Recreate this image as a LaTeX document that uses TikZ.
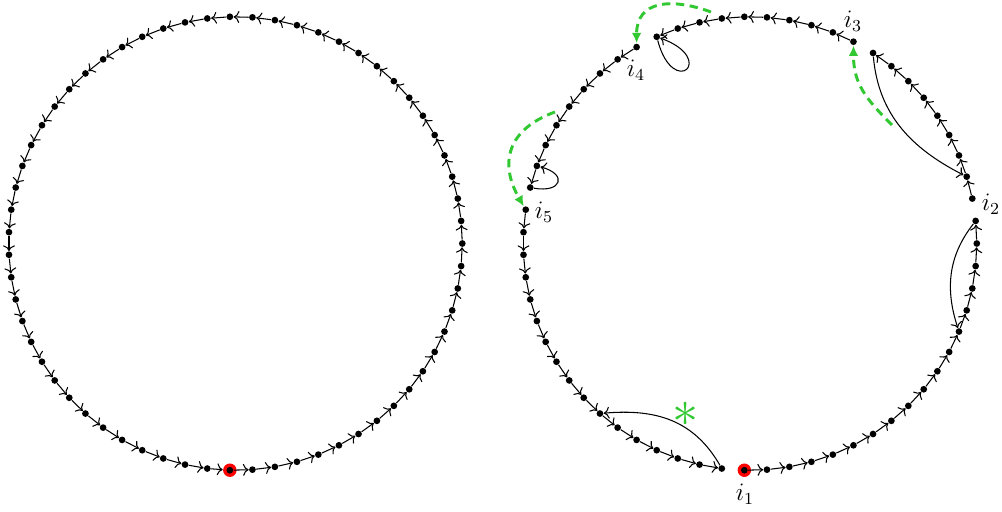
\documentclass[tikz,border=0pt]{standalone}
\usetikzlibrary{arrows.meta}
\definecolor{gr}{RGB}{50,200,50}
\begin{document}
\begin{tikzpicture}[x=0.47619pt,y=0.47619pt,
  dot/.style={circle,fill=black,inner sep=0pt,minimum size=3.2pt},
  ring/.style={circle,fill=red,inner sep=0pt,minimum size=6.4pt},
  arr/.style={->,line width=0.5pt},
  garr/.style={gr,line width=1.4pt,dash pattern=on 4pt off 2.6pt,-{Latex[length=5pt,width=4.6pt]}},
  lab/.style={inner sep=0pt,font=\fontsize{11.5}{13}\selectfont}]
\useasboundingbox (0,0) rectangle (1002,-512);
% ---------- left circle ----------
\begin{scope}[shift={(235.5,-243.5)}]
  \node[ring] (Lring) at ({47*5.7142857}:226.8) {};
  \foreach \j in {0,...,62}
    \node[dot] (L\j) at ({\j*5.7142857}:226.8) {};
\end{scope}
\foreach \j in {0,...,45,47,48,...,62}{
  \pgfmathtruncatemacro\n{mod(\j+1,63)}
  \draw[arr] (L\j) -- (L\n);
}
\draw[arr] (L46) -- (Lring);
% ---------- right circle ----------
\begin{scope}[shift={(750,-243.5)}]
  \node[ring] (Rring) at ({47*5.7142857}:226.8) {};
  \foreach \j in {0,...,62}
    \node[dot] (R\j) at ({\j*5.7142857}:226.8) {};
\end{scope}
\foreach \j in {0,2,3,...,9,11,12,...,19,21,22,...,28,30,31,...,45,47,48,...,62}{
  \pgfmathtruncatemacro\n{mod(\j+1,63)}
  \draw[arr] (R\j) -- (R\n);
}
% back edges and loops
\draw[arr] (R46) to[out=120,in=5,looseness=1.05] (R40);
\draw[arr] (R1) to[out=232,in=108] (R59);
\draw[arr] (R10) to[out=-85,in=153] (R3);
\draw[arr] (R20) .. controls +(-75:65) and +(-20:65) .. (R20);
\draw[arr] (R29) .. controls +(-10:32) and +(-15:32) .. (R28);
% green dashed arrows
\coordinate (g1) at (711,-12);
\draw[garr] (g1) to[out=160,in=90,looseness=1.35] (R21);
\coordinate (g2) at (892,-125);
\draw[garr] (g2) to[out=135,in=-90,looseness=1.1] (R11);
\coordinate (g3) at (555,-112);
\draw[garr] (g3) to[out=200,in=120,looseness=1.3] (R30);
% asterisk
\node[gr,inner sep=0pt] (ast) at (686,-414) {\Huge$\ast$};
% labels
\node[lab] (l1) at (745,-494) {$i_1$};
\node[lab] (l2) at (991,-204) {$i_2$};
\node[lab] (l3) at (853,-21) {$i_3$};
\node[lab] (l4) at (636,-70) {$i_4$};
\node[lab] (l5) at (544,-212) {$i_5$};
\end{tikzpicture}
\end{document}
